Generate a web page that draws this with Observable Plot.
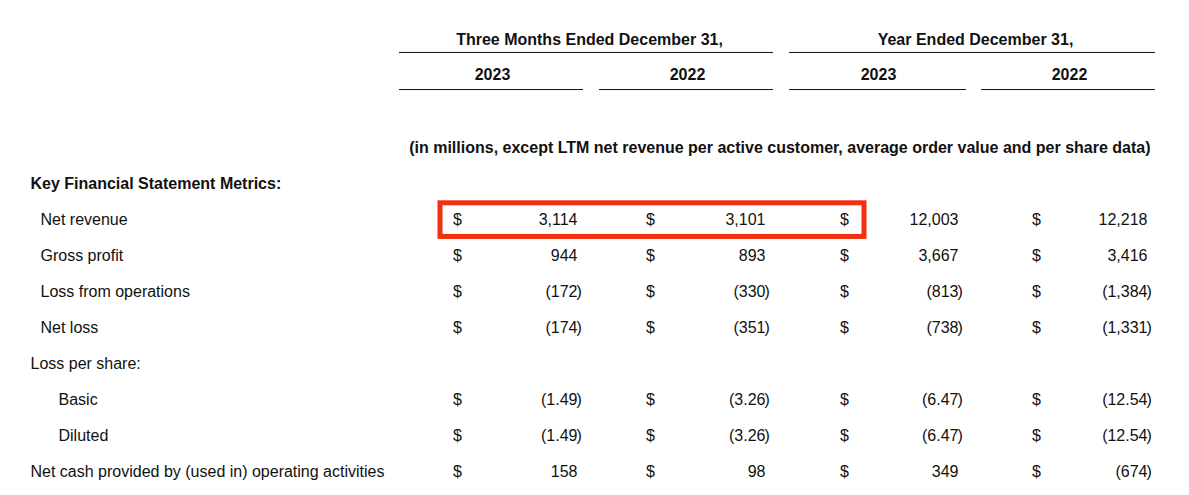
<!DOCTYPE html>
<html>
<head>
<meta charset="utf-8">
<script src="https://cdn.jsdelivr.net/npm/d3@7"></script>
<script src="https://cdn.jsdelivr.net/npm/@observablehq/plot@0.6"></script>
<style>
  html, body { margin: 0; padding: 0; background: #fff; }
  #chart svg { display: block; }
</style>
</head>
<body>
<div id="chart"></div>
<script>
// ---------- DATA ----------
const groupHeaders = ["Three Months Ended December 31,", "Year Ended December 31,"];
const periodHeaders = ["2023", "2022", "2023", "2022"];
const unitNote = "(in millions, except LTM net revenue per active customer, average order value and per share data)";
const sectionTitle = "Key Financial Statement Metrics:";
const rowLabels = ["Net revenue", "Gross profit", "Loss from operations", "Net loss", "Loss per share:", "Basic", "Diluted", "Net cash provided by (used in) operating activities"];
const rowIndent = [1, 1, 1, 1, 0, 2, 2, 0];
const q4_2023 = [3114, 944, -172, -174, null, -1.49, -1.49, 158];
const q4_2022 = [3101, 893, -330, -351, null, -3.26, -3.26, 98];
const fy_2023 = [12003, 3667, -813, -738, null, -6.47, -6.47, 349];
const fy_2022 = [12218, 3416, -1384, -1331, null, -12.54, -12.54, -674];
const highlightRow = "Net revenue";

// ---------- LAYOUT ----------
const W = 1189, H = 495;
const ink = "#111";
const font = "Liberation Sans, Arial, sans-serif";
const fs = 16;
const labelX = [30, 40, 58];                 // indent levels
const dollarX = [457, 650, 844, 1036];        // $ centers
const valueX = [577, 765, 958, 1147];         // right edge of digits
const periodCenter = [492, 687, 878, 1069];
const periodLine = [[399, 583], [599, 773], [789, 966], [981, 1155]];
const groupCenter = [589, 975];
const groupLine = [[399, 773], [789, 1155]];
const firstDataRow = 5; // row index of first metric (rows: 0 group hdr, 1 years, 3 note, 4 section)

// ---------- BUILD ----------
const series = [q4_2023, q4_2022, fy_2023, fy_2022];
const fmt = v => {
  const a = Math.abs(v);
  const s = Number.isInteger(a) ? d3.format(",")(a) : a.toFixed(2);
  return v < 0 ? "(" + s : s;
};
const cells = [];
rowLabels.forEach((lab, i) => {
  series.forEach((arr, c) => {
    const v = arr[i];
    if (v == null) return;
    cells.push({row: firstDataRow + i, col: c, text: fmt(v), neg: v < 0});
  });
});
const labels = rowLabels.map((l, i) => ({row: firstDataRow + i, text: l, x: labelX[rowIndent[i]]}));
const hi = rowLabels.indexOf(highlightRow) + firstDataRow;

const plot = Plot.plot({
  width: W, height: H,
  marginTop: 0, marginBottom: 0, marginLeft: 0, marginRight: 0,
  x: {type: "linear", domain: [0, W], range: [0, W], axis: null},
  y: {type: "linear", domain: [0, 12], range: [39, 471], axis: null},
  style: {fontFamily: font, fontSize: fs + "px", color: ink, background: "#fff"},
  marks: [
    // group headers
    Plot.text(groupHeaders, {x: (d, i) => groupCenter[i], y: () => 0, text: d => d, fontWeight: "bold", fill: ink, fontSize: fs}),
    Plot.ruleY(groupLine.map(d => ({x1: d[0], x2: d[1]})), {x1: "x1", x2: "x2", y: () => 0.36, stroke: ink, strokeWidth: 1}),
    Plot.text(periodHeaders, {x: (d, i) => periodCenter[i], y: () => 0.98, text: d => d, fontWeight: "bold", fill: ink, fontSize: fs}),
    Plot.ruleY(periodLine.map(d => ({x1: d[0], x2: d[1]})), {x1: "x1", x2: "x2", y: () => 1.39, stroke: ink, strokeWidth: 1}),
    // unit note
    Plot.text([unitNote], {x: () => 1150, y: () => 3, text: d => d, textAnchor: "end", fontWeight: "bold", fill: ink, fontSize: fs}),
    // section title
    Plot.text([sectionTitle], {x: () => labelX[0], y: () => 4.02, text: d => d, textAnchor: "start", fontWeight: "bold", fill: ink, fontSize: fs}),
    // row labels
    Plot.text(labels, {x: "x", y: "row", text: "text", textAnchor: "start", fill: ink, fontSize: fs}),
    // dollar signs
    Plot.text(cells, {x: d => dollarX[d.col], y: "row", text: () => "$", fill: ink, fontSize: fs}),
    // values
    Plot.text(cells, {x: d => valueX[d.col], y: "row", text: "text", textAnchor: "end", fill: ink, fontSize: fs}),
    Plot.text(cells.filter(d => d.neg), {x: d => valueX[d.col], y: "row", dx: -1, text: () => ")", textAnchor: "start", fill: ink, fontSize: fs}),
    // highlight box
    Plot.rect([{row: hi}], {x1: () => 440, x2: () => 864, y1: d => d.row - 0.45, y2: d => d.row + 0.485, fill: "none", stroke: "#f3310f", strokeWidth: 5})
  ]
});
document.getElementById("chart").appendChild(plot);
</script>
</body>
</html>
